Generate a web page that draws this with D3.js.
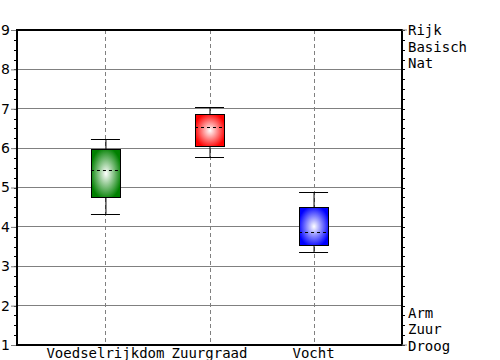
<!DOCTYPE html>
<html><head><meta charset="utf-8">
<script src="https://cdn.jsdelivr.net/npm/d3@7"></script>
<style>html,body{margin:0;padding:0;background:#fff;}</style>
</head><body>
<svg id="chart" width="500" height="360"></svg>
<script>
const categories = ["Voedselrijkdom", "Zuurgraad", "Vocht"];
const whiskerLow  = [4.33, 5.77, 3.35];
const q1          = [4.76, 6.04, 3.54];
const median      = [5.44, 6.53, 3.88];
const q3          = [5.98, 6.86, 4.50];
const whiskerHigh = [6.23, 7.04, 4.88];
const colors      = ["#008000", "#ff0000", "#0000ff"];
const yTicks = [1, 2, 3, 4, 5, 6, 7, 8, 9];
const rightTopLabels = ["Rijk", "Basisch", "Nat"];
const rightBottomLabels = ["Arm", "Zuur", "Droog"];

const svg = d3.select("#chart");
const L = 17, R = 402, T = 30, B = 345;
const y = d3.scaleLinear().domain([1, 9]).range([B, T]);
const x = d3.scalePoint().domain(categories).range([L, R]).padding(0.85);
const boxW = 29;

const defs = svg.append("defs");
colors.forEach((c, i) => {
  const g = defs.append("radialGradient").attr("id", "grad" + i)
    .attr("cx", "50%").attr("cy", "50%").attr("r", "55%");
  g.append("stop").attr("offset", "0%").attr("stop-color", "#ffffff");
  g.append("stop").attr("offset", "100%").attr("stop-color", c);
});

// horizontal grid
svg.append("g").selectAll("line").data(yTicks.filter(d => d > 1 && d < 9)).join("line")
  .attr("x1", L).attr("x2", R).attr("y1", d => y(d)).attr("y2", d => y(d))
  .attr("stroke", "#808080").attr("stroke-width", 1).attr("shape-rendering", "crispEdges");

// vertical dashed grid
svg.append("g").selectAll("line").data(categories).join("line")
  .attr("x1", d => Math.round(x(d)) + 0.5).attr("x2", d => Math.round(x(d)) + 0.5)
  .attr("y1", T).attr("y2", B)
  .attr("stroke", "#808080").attr("stroke-width", 1).attr("stroke-dasharray", "4,3");

// minor ticks
const minor = d3.range(1, 9.001, 0.25);
svg.append("g").selectAll("line").data(minor).join("line")
  .attr("x1", L - 3).attr("x2", L).attr("y1", d => Math.round(y(d)) + 0.5).attr("y2", d => Math.round(y(d)) + 0.5)
  .attr("stroke", "#000").attr("stroke-width", 1);
svg.append("g").selectAll("line").data(minor).join("line")
  .attr("x1", R).attr("x2", R + 3).attr("y1", d => Math.round(y(d)) + 0.5).attr("y2", d => Math.round(y(d)) + 0.5)
  .attr("stroke", "#000").attr("stroke-width", 1);

// left axis with major ticks
const leftAxis = d3.axisLeft(y).tickValues(yTicks).tickSize(6).tickPadding(2).tickFormat(d3.format("d"));
const gl = svg.append("g").attr("transform", `translate(${L},0)`).call(leftAxis);
gl.select(".domain").remove();
gl.selectAll(".tick line").attr("stroke", "#808080");
gl.selectAll(".tick text").attr("font-family", "DejaVu Sans").attr("font-size", 14).attr("fill", "#000").attr("x", -7);

// whiskers
const g = svg.append("g");
categories.forEach((c, i) => {
  const cx = x(c);
  g.append("line").attr("x1", cx + 0.5).attr("x2", cx + 0.5)
    .attr("y1", y(whiskerHigh[i])).attr("y2", y(q3[i])).attr("stroke", "#000");
  g.append("line").attr("x1", cx + 0.5).attr("x2", cx + 0.5)
    .attr("y1", y(q1[i])).attr("y2", y(whiskerLow[i])).attr("stroke", "#000");
  [whiskerHigh[i], whiskerLow[i]].forEach(v => {
    g.append("line").attr("x1", cx - boxW / 2).attr("x2", cx + boxW / 2)
      .attr("y1", Math.round(y(v)) + 0.5).attr("y2", Math.round(y(v)) + 0.5).attr("stroke", "#000");
  });
  g.append("rect").attr("x", Math.round(cx - boxW / 2) + 0.5).attr("width", boxW)
    .attr("y", Math.round(y(q3[i])) + 0.5).attr("height", Math.round(y(q1[i]) - y(q3[i])))
    .attr("fill", `url(#grad${i})`).attr("stroke", "#000").attr("stroke-width", 1);
  g.append("line").attr("x1", cx - boxW / 2).attr("x2", cx + boxW / 2)
    .attr("y1", Math.round(y(median[i])) + 0.5).attr("y2", Math.round(y(median[i])) + 0.5)
    .attr("stroke", "#000").attr("stroke-dasharray", "3,3");
});

// frame
svg.append("rect").attr("x", L).attr("y", T).attr("width", R - L).attr("height", B - T)
  .attr("fill", "none").attr("stroke", "#000").attr("stroke-width", 2);

// x labels
svg.append("g").selectAll("text").data(categories).join("text")
  .attr("x", d => x(d)).attr("y", 358).attr("text-anchor", "middle")
  .attr("font-family", "DejaVu Sans Mono").attr("font-size", 14).text(d => d);

// right labels
const rStep = 16.7;
svg.append("g").selectAll("text").data(rightTopLabels).join("text")
  .attr("x", 408).attr("y", (d, i) => y(9) + i * rStep + 5)
  .attr("font-family", "DejaVu Sans Mono").attr("font-size", 14).text(d => d);
svg.append("g").selectAll("text").data(rightBottomLabels).join("text")
  .attr("x", 408).attr("y", (d, i) => y(1) - (2 - i) * rStep + 6)
  .attr("font-family", "DejaVu Sans Mono").attr("font-size", 14).text(d => d);
// right major ticks
svg.append("g").selectAll("line").data([9, 1]).join("line")
  .attr("x1", R).attr("x2", R + 5).attr("y1", d => y(d)).attr("y2", d => y(d))
  .attr("stroke", "#808080");
</script>
</body></html>
